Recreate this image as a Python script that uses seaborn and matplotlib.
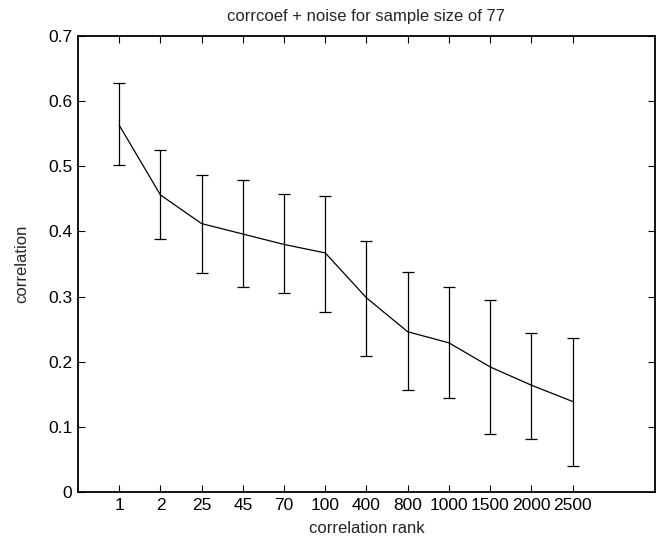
import numpy as np
import pandas as pd
import seaborn as sns
import matplotlib
matplotlib.use('Agg')
import matplotlib.pyplot as plt

# x categories (correlation rank) and measured values
rank_labels = ['1', '2', '25', '45', '70', '100', '400', '800', '1000', '1500', '2000', '2500']
corr_mean = [0.563, 0.456, 0.412, 0.396, 0.380, 0.367, 0.298, 0.246, 0.229, 0.192, 0.164, 0.139]
corr_upper = [0.628, 0.525, 0.486, 0.479, 0.457, 0.455, 0.386, 0.338, 0.315, 0.294, 0.244, 0.236]
corr_lower = [0.502, 0.388, 0.336, 0.315, 0.305, 0.276, 0.209, 0.156, 0.144, 0.089, 0.081, 0.040]

sns.set_style('ticks')
plt.rcParams['font.family'] = ['Liberation Sans', 'DejaVu Sans']

df = pd.DataFrame({'pos': np.arange(1, len(rank_labels) + 1), 'corr': corr_mean})
lo = df['corr'] - np.array(corr_lower)
hi = np.array(corr_upper) - df['corr']

fig = plt.figure(figsize=(6.64, 5.44), dpi=100)
ax = fig.add_axes([0.1175, 0.0956, 0.8689, 0.8382])

sns.lineplot(data=df, x='pos', y='corr', color='black', linewidth=0.9, ax=ax)
ax.errorbar(df['pos'], df['corr'], yerr=[lo, hi], fmt='none', ecolor='black',
            elinewidth=0.9, capsize=4.5, capthick=0.9)

ax.set_xlim(0, 14)
ax.set_ylim(0, 0.7)
ax.set_xticks(df['pos'])
ax.set_xticklabels(rank_labels)
ax.set_yticks(np.arange(0, 0.71, 0.1))
ax.set_yticklabels(['0', '0.1', '0.2', '0.3', '0.4', '0.5', '0.6', '0.7'])
ax.tick_params(direction='in', top=True, right=True, length=5, width=0.8,
               labelsize=12.5, colors='black', pad=4)
for s in ax.spines.values():
    s.set_linewidth(1.3)
    s.set_color('black')

ax.set_xlabel('correlation rank', fontsize=12, labelpad=6)
ax.set_ylabel('correlation', fontsize=12, labelpad=14)
ax.set_title('corrcoef + noise for sample size of 77', fontsize=12, pad=11)

fig.savefig('out.png', dpi=100)
